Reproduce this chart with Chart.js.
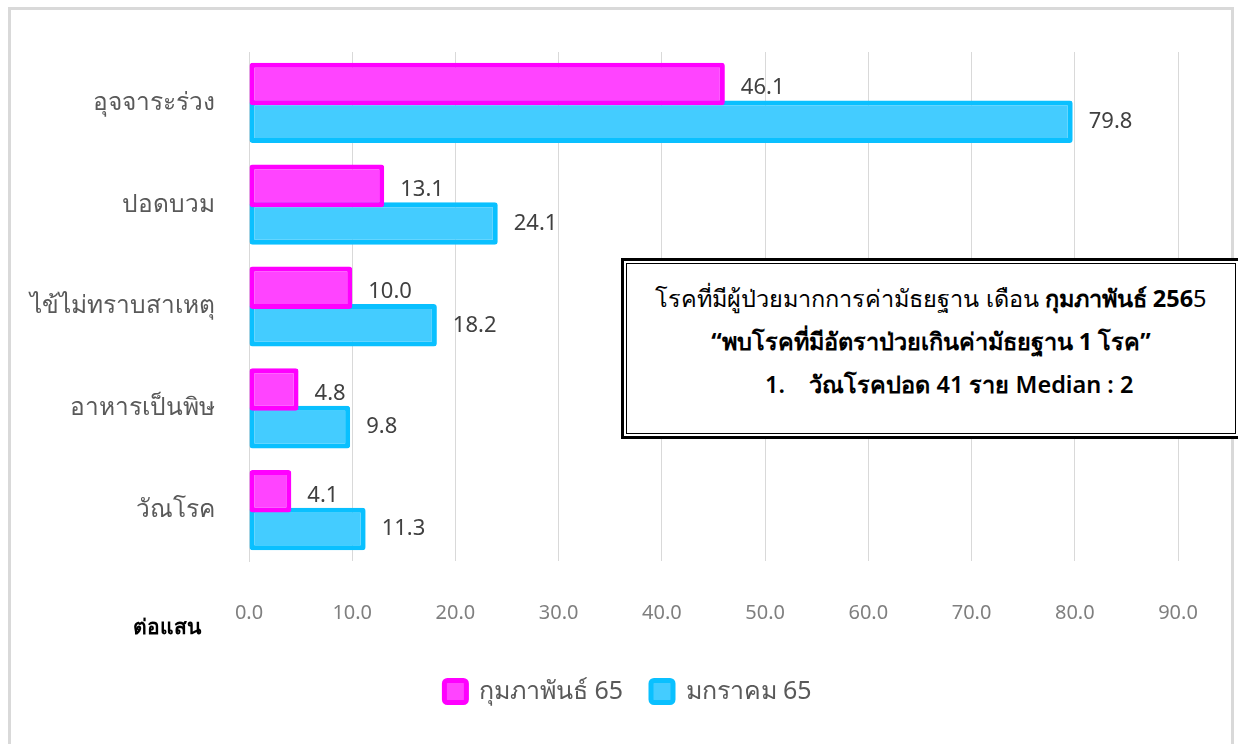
<!DOCTYPE html>
<html>
<head>
<meta charset="utf-8">
<script src="https://cdn.jsdelivr.net/npm/chart.js@4"></script>
<style>
  html, body { margin: 0; padding: 0; background: #fff; }
  body { width: 1238px; height: 744px; position: relative; overflow: hidden; font-family: "Noto Sans", "DejaVu Sans", sans-serif; }
  #frame { position: absolute; left: 8px; top: 7px; width: 1226px; height: 760px; border: 3px solid #d9d9d9; box-sizing: border-box; }
  #wrap { position: absolute; left: 0; top: 0; width: 1238px; height: 744px; }
  #unit { position: absolute; left: 133px; top: 610px; font-size: 21px; font-weight: bold; color: #000; }
  #note { position: absolute; left: 621px; top: 258px; width: 620px; height: 181px; box-sizing: border-box; border: 3px solid #000; background: #fff; padding: 2px; }
  #note .inner { border: 1px solid #000; height: 100%; box-sizing: border-box; color: #000; font-size: 23.5px; line-height: 43px; }
  #note .l1 { text-align: center; margin-top: 13px; }
  #note .l2 { text-align: center; font-weight: bold; }
  #note .l3 { font-weight: 600; padding-left: 138px; }
</style>
</head>
<body>
<div id="frame"></div>
<div id="wrap"><canvas id="chart" width="1238" height="744"></canvas></div>
<div id="unit">ต่อแสน</div>
<div id="note"><div class="inner">
  <div class="l1">โรคที่มีผู้ป่วยมากการค่ามัธยฐาน เดือน <b>กุมภาพันธ์ 256</b>5</div>
  <div class="l2">“พบโรคที่มีอัตราป่วยเกินค่ามัธยฐาน 1 โรค”</div>
  <div class="l3">1.&nbsp;&nbsp;&nbsp; วัณโรคปอด 41 ราย Median : 2</div>
</div></div>
<script>
const diseases = ['อุจจาระร่วง', 'ปอดบวม', 'ไข้ไม่ทราบสาเหตุ', 'อาหารเป็นพิษ', 'วัณโรค'];
const feb65 = [46.1, 13.1, 10.0, 4.8, 4.1];
const jan65 = [79.8, 24.1, 18.2, 9.8, 11.3];
const xTicks = [0, 10, 20, 30, 40, 50, 60, 70, 80, 90];

// value labels next to each bar
const valueLabels = {
    id: 'valueLabels',
    afterDatasetsDraw(chart) {
        const ctx = chart.ctx;
        ctx.save();
        ctx.font = '22px "Noto Sans", "DejaVu Sans", sans-serif';
        ctx.fillStyle = '#404040';
        ctx.textBaseline = 'middle';
        chart.data.datasets.forEach((ds, i) => {
            chart.getDatasetMeta(i).data.forEach((bar, j) => {
                const dy = i === 0 ? 4 : 0;
                ctx.fillText(ds.data[j].toFixed(1), bar.x + 16, bar.y + dy);
            });
        });
        ctx.restore();
    }
};

// legend sits a little right of the canvas centre
const legendShift = {
    id: 'legendShift',
    afterLayout(chart) {
        chart.legend.left += 39;
        chart.legend.right += 39;
    }
};

new Chart(document.getElementById('chart'), {
    type: 'bar',
    data: {
        labels: diseases,
        datasets: [
            {
                label: 'กุมภาพันธ์ 65',
                data: feb65,
                backgroundColor: '#ff44ff',
                borderColor: '#ff00ff',
                borderWidth: 5,
                borderRadius: 3,
                borderSkipped: false,
                categoryPercentage: 0.74,
                barPercentage: 1.13
            },
            {
                label: 'มกราคม 65',
                data: jan65,
                backgroundColor: '#44ccff',
                borderColor: '#0ac0ff',
                borderWidth: 5,
                borderRadius: 3,
                borderSkipped: false,
                categoryPercentage: 0.74,
                barPercentage: 1.13
            }
        ]
    },
    options: {
        indexAxis: 'y',
        responsive: false,
        animation: false,
        devicePixelRatio: 1,
        layout: { padding: { top: 52, right: 60, bottom: 30, left: 0 } },
        plugins: {
            legend: {
                position: 'bottom',
                labels: {
                    boxWidth: 22,
                    boxHeight: 22,
                    useBorderRadius: true,
                    borderRadius: 3,
                    color: '#595959',
                    padding: 28,
                    font: { size: 25, family: '"Noto Sans", "DejaVu Sans", sans-serif' }
                }
            },
            tooltip: { enabled: false }
        },
        scales: {
            x: {
                min: 0,
                max: 90,
                afterBuildTicks: scale => { scale.ticks = xTicks.map(v => ({ value: v })); },
                afterFit: scale => { scale.height = 90; },
                grid: { color: '#d9d9d9', drawTicks: false },
                border: { display: false },
                ticks: {
                    padding: 40,
                    color: '#7f7f7f',
                    font: { size: 20, family: '"Noto Sans", "DejaVu Sans", sans-serif' },
                    callback: v => v.toFixed(1)
                }
            },
            y: {
                afterFit: scale => { scale.width = 249; },
                grid: { display: false },
                border: { display: true, color: '#d9d9d9' },
                ticks: {
                    padding: 26,
                    color: '#595959',
                    font: { size: 24.5, family: '"Noto Sans", "DejaVu Sans", sans-serif' }
                }
            }
        }
    },
    plugins: [valueLabels, legendShift]
});
</script>
</body>
</html>
